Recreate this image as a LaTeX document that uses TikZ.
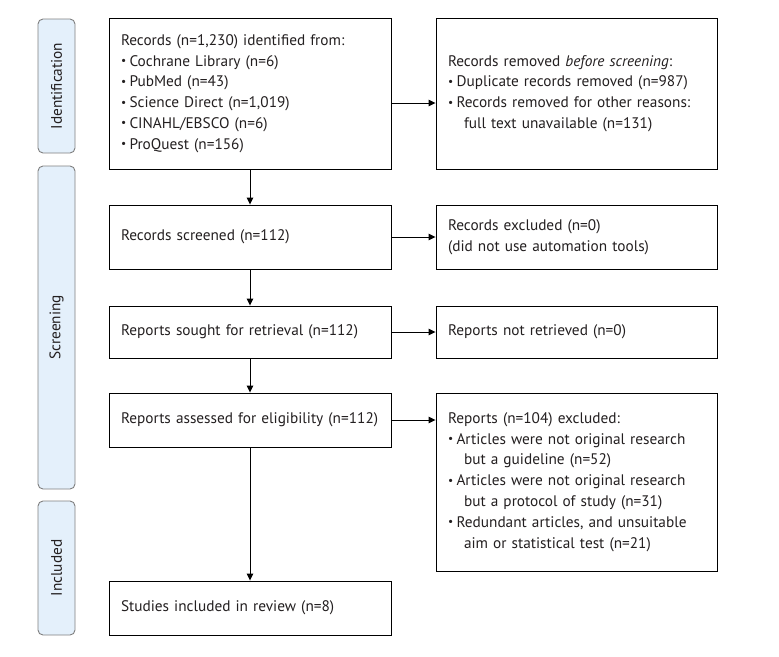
\documentclass[tikz,border=0pt]{standalone}
\usepackage{fontspec}
\setmainfont{PT Sans}
\usetikzlibrary{arrows.meta}
\definecolor{txt}{HTML}{231F20}
\definecolor{barfill}{HTML}{E4F0FB}
\definecolor{barline}{HTML}{7F7F7F}
\newcommand\bul{\makebox[8.5pt][l]{\raisebox{0.2ex}{\scalebox{0.75}{\textbullet}}}}
\newcommand\ind{\hspace*{16pt}}
\begin{document}
\begin{tikzpicture}[x=1pt,y=-1pt,
  box/.style={draw=black, line width=0.9pt, inner xsep=12pt, inner ysep=4pt, align=left,
     text=txt, font=\fontsize{15.3}{20.8}\selectfont, anchor=center},
  bar/.style={draw=barline, fill=barfill, line width=0.9pt, rounded corners=5pt,
     minimum width=37pt, inner sep=0pt},
  bartext/.style={rotate=90, text=txt, font=\fontsize{15.3}{17}\selectfont},
  arr/.style={line width=0.9pt, -{Triangle[length=7pt,width=6.5pt]}}]
\useasboundingbox (0,0) rectangle (779,656);
% side bars
\node[bar, minimum height=134pt] (sid) at (56.5,86) {};
\node[bartext] (sidt) at (sid.center) {Identification};
\node[bar, minimum height=323pt] (ssc) at (56.5,327.5) {};
\node[bartext] (ssct) at (ssc.center) {Screening};
\node[bar, minimum height=134pt] (sin) at (56.5,568) {};
\node[bartext] (sint) at (sin.center) {Included};
% left boxes
\node[box, text width=258pt, minimum height=151pt] (b1) at (250,93.5) {Records (n=1,230) identified from:\\
\bul Cochrane Library (n=6)\\
\bul PubMed (n=43)\\
\bul Science Direct (n=1,019)\\
\bul CINAHL/EBSCO (n=6)\\
\bul ProQuest (n=156)};
\node[box, text width=258pt, minimum height=64pt] (b2) at (250,237) {Records screened (n=112)};
\node[box, text width=258pt, minimum height=52pt] (b3) at (250,332) {Reports sought for retrieval (n=112)};
\node[box, text width=258pt, minimum height=54pt] (b4) at (250,420) {Reports assessed for eligibility (n=112)};
\node[box, text width=258pt, minimum height=54pt] (b5) at (250,608) {Studies included in review (n=8)};
% right boxes
\node[box, text width=257pt, minimum height=151pt] (r1) at (576.5,93.5) {Records removed \textit{before screening}:\\
\bul Duplicate records removed (n=987)\\
\bul Records removed for other reasons:\\
\ind full text unavailable (n=131)};
\node[box, text width=257pt, minimum height=64pt] (r2) at (576.5,237) {Records excluded (n=0)\\
(did not use automation tools)};
\node[box, text width=257pt, minimum height=52pt] (r3) at (576.5,332) {Reports not retrieved (n=0)};
\node[box, text width=257pt, minimum height=178pt] (r4) at (576.5,482) {Reports (n=104) excluded:\\
\bul Articles were not original research\\
\ind but a guideline (n=52)\\
\bul Articles were not original research\\
\ind but a protocol of study (n=31)\\
\bul Redundant articles, and unsuitable\\
\ind aim or statistical test (n=21)};
% arrows
\draw[arr] (b1.south) -- (b2.north);
\draw[arr] (b2.south) -- (b3.north);
\draw[arr] (b3.south) -- (b4.north);
\draw[arr] (b4.south) -- (b5.north);
\draw[arr] ([yshift=-9.5pt]b1.east) -- ([yshift=-9.5pt]b1.east -| r1.west);
\draw[arr] (b2.east) -- (r2.west);
\draw[arr] (b3.east) -- (r3.west);
\draw[arr] (b4.east) -- (b4.east -| r4.west);
\end{tikzpicture}
\end{document}
